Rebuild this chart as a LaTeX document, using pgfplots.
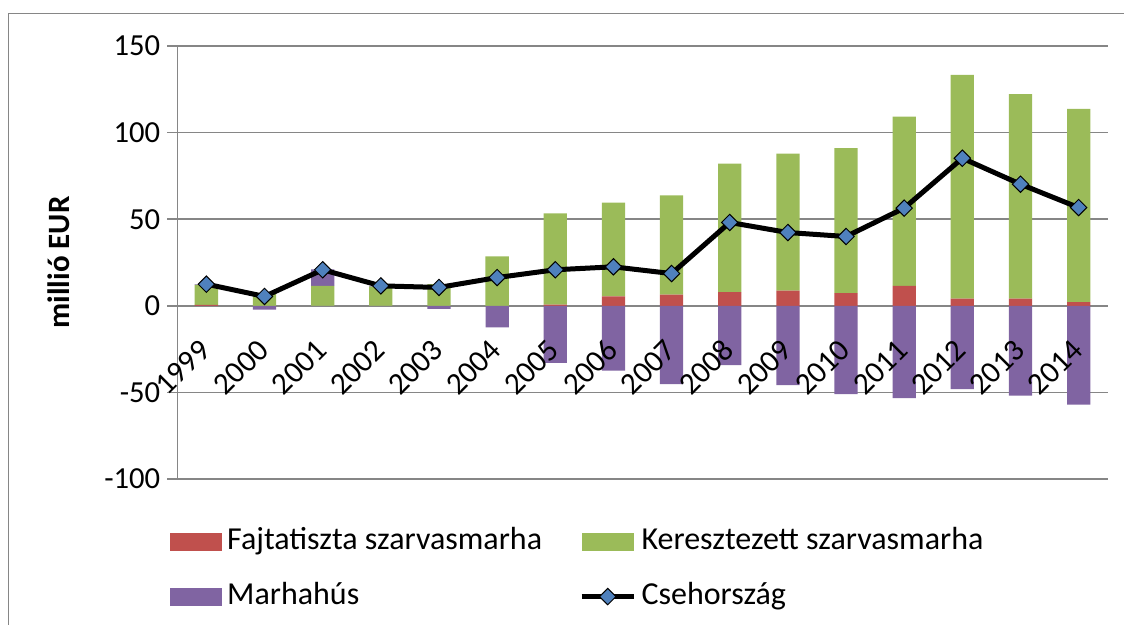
\documentclass[border=0pt]{standalone}
\usepackage{fontspec}
\setmainfont{Carlito}
\usepackage{pgfplots}
\usepackage{pgfplotstable}
\pgfplotsset{compat=1.18}

\definecolor{fajta}{HTML}{C0504D}
\definecolor{kereszt}{HTML}{9BBB59}
\definecolor{marha}{HTML}{8064A2}
\definecolor{cseh}{HTML}{4F81BD}
\definecolor{axisgray}{HTML}{868686}

% marhapos / marhaneg: Marhahus split so that Excel-like +/- stacking works
\pgfplotstableread{
x  fajta kereszt marhapos marhaneg cseh
0  0.5   11.6    0.3      0        12.5
1  0     7.5     0        -2.2     5.4
2  0     11.5    9.5      0        20.8
3  0     11.0    0.5      0        11.5
4  0     12.5    0        -1.8     10.6
5  0     28.6    0        -12.5    16.3
6  0.7   52.6    0        -32.9    20.8
7  5.4   54.2    0        -37.5    22.5
8  6.5   57.2    0        -45.2    18.6
9  7.9   74.2    0        -34.2    48.1
10 8.8   79.1    0        -45.8    42.3
11 7.3   83.7    0        -51.0    40.0
12 11.5  97.7    0        -53.3    56.4
13 4.2   129.1   0        -48.1    85.2
14 4.2   118.0   0        -51.9    70.2
15 2.1   111.6   0        -57.1    56.7
}\data

\pgfplotsset{
  barleg/.style={legend image code/.code={\fill[##1] (0pt,-4.5pt) rectangle (26pt,4.5pt);}},
  lineleg/.style={legend image code/.code={\draw[mark repeat=2,mark phase=2,##1] plot coordinates {(0pt,0pt) (13pt,0pt) (26pt,0pt)};}},
  common/.style={
    at={(88.65pt,73pt)}, anchor=south west,
    scale only axis, width=465.2pt, height=216.5pt,
    xmin=-0.5, xmax=15.5, ymin=-100, ymax=150,
  },
}

\begin{document}
\begin{tikzpicture}
\useasboundingbox (0,0) rectangle (562pt,312.5pt);
\draw[axisgray, line width=0.75pt] (4.25pt,0pt) -- (4.25pt,305.75pt) -- (570pt,305.75pt);
% positive stack, grid and axes
\begin{axis}[
    common,
    ybar stacked, bar width=0.4,
    axis x line*=middle, axis y line*=left,
    xtick=\empty,
    minor xtick={-0.5,0.5,...,15.5},
    ytick={-100,-50,...,150},
    ymajorgrids, grid style={axisgray, line width=0.75pt},
    axis line style={axisgray, line width=0.75pt},
    minor x tick style={axisgray, line width=0.75pt},
    y tick style={axisgray, line width=0.75pt},
    tick align=outside, major tick length=5pt, minor tick length=5pt,
    /pgf/number format/assume math mode=true,
    yticklabel style={font=\fontsize{15.3pt}{18pt}\selectfont},
    ylabel={millió EUR},
    ylabel style={at={(axis description cs:-0.127,0.5)}, anchor=center, font=\bfseries\fontsize{15.5pt}{18pt}\selectfont},
]
\addplot[fill=fajta, draw=none] table[x=x,y=fajta]{\data};
\addplot[fill=kereszt, draw=none] table[x=x,y=kereszt]{\data};
\addplot[fill=marha, draw=none] table[x=x,y=marhapos]{\data};
\end{axis}
% negative part, line, category labels and legend
\begin{axis}[
    common, axis on top,
    axis x line*=middle, axis y line=none,
    x axis line style={draw=none},
    xtick={0,...,15},
    xticklabels={1999,2000,2001,2002,2003,2004,2005,2006,2007,2008,2009,2010,2011,2012,2013,2014},
    major x tick style={draw=none},
    ytick=\empty,
    xticklabel style={yshift=-19.5pt, xshift=-0.5pt, rotate=45, anchor=east, inner sep=0pt,
        font=\fontsize{15.5pt}{18pt}\selectfont},
    legend style={at={(axis description cs:-0.0084,-0.109)}, anchor=north west,
        draw=none, fill=none, legend columns=2, inner sep=0pt,
        font=\fontsize{16pt}{19pt}\selectfont,
        nodes={inner sep=0pt, text height=11.5pt, text depth=3.5pt},
        row sep=12.5pt,
        /tikz/every odd column/.append style={column sep=2.65pt},
        /tikz/every even column/.append style={column sep=18.55pt}},
    legend cell align=left,
]
\addlegendimage{barleg, fill=fajta, draw=none}
\addlegendimage{barleg, fill=kereszt, draw=none}
\addplot[ybar, bar width=0.4, bar shift=0pt, fill=marha, draw=none, barleg]
    table[x=x,y=marhaneg]{\data};
\addplot[sharp plot, fill=none, draw=black, line width=2.5pt, lineleg,
    mark=square*, mark size=2.9pt,
    mark options={fill=cseh, draw=black, line width=0.5pt, rotate=45}]
    table[x=x,y=cseh]{\data};
\legend{Fajtatiszta szarvasmarha, Keresztezett szarvasmarha, Marhahús, Csehország}
\end{axis}
\end{tikzpicture}
\end{document}
